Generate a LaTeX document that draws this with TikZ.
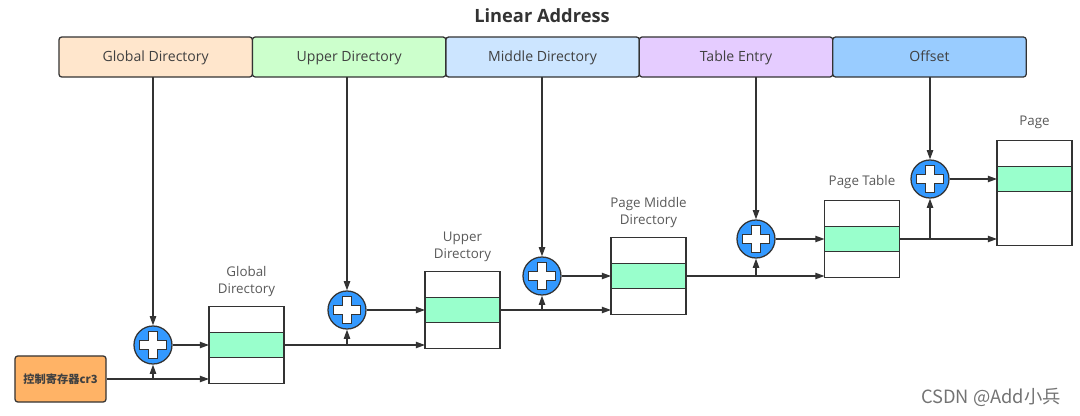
\documentclass[tikz,border=0pt]{standalone}
\usepackage{fontspec}
\setmainfont{Open Sans}
\newfontfamily\cjk{Noto Sans CJK SC}
\usetikzlibrary{positioning}
\usetikzlibrary{arrows.meta}
\definecolor{linegray}{HTML}{333333}
\definecolor{textgray}{HTML}{404040}
\definecolor{labelgray}{HTML}{595959}
\definecolor{gdfill}{HTML}{FFE6CC}
\definecolor{udfill}{HTML}{CCFFCC}
\definecolor{mdfill}{HTML}{CCE5FF}
\definecolor{tefill}{HTML}{E5CCFF}
\definecolor{offfill}{HTML}{99CCFF}
\definecolor{adderblue}{HTML}{3399FF}
\definecolor{rowgreen}{HTML}{99FFCC}
\definecolor{crorange}{HTML}{FFB366}
\tikzset{
thickness/.style={line width=0.9pt},
field/.style={draw=linegray, rounded corners=2pt, minimum width=4.835cm, minimum height=1cm,
	inner sep=0pt, outer sep=0pt, text=textgray, text height=7pt, text depth=0pt,
	font=\fontsize{10}{12}\selectfont, thickness},
cell/.style={draw=linegray, fill=white, minimum width=1.875cm, minimum height=0.64cm,
	inner sep=0pt, outer sep=0pt, thickness},
tlabel/.style={align=center, inner sep=0pt, text=labelgray, font=\fontsize{9.5}{11.5}\selectfont},
arr/.style={draw=linegray, thickness, -{Triangle[length=6.5pt, width=4.5pt]}},
adder/.style={circle, draw=linegray, fill=adderblue, minimum size=0.95cm, inner sep=0pt, thickness,
	path picture={
		\draw[draw=linegray, fill=white, line width=0.8pt]
		([shift={(-4.5,-13.5)}]path picture bounding box.center) -- ++(9,0) -- ++(0,9) -- ++(9,0)
		-- ++(0,9) -- ++(-9,0) -- ++(0,9) -- ++(-9,0) -- ++(0,-9) -- ++(-9,0) -- ++(0,-9)
		-- ++(9,0) -- cycle;
	}},
}
\begin{document}
\begin{tikzpicture}[x=0.025cm, y=-0.025cm]
	\useasboundingbox (0,0) rectangle (1080,415);
	\node[font=\bfseries\fontsize{13}{15}\selectfont, text=linegray] (title) at (542,16) {Linear Address};
	
	% linear address fields
	\node[field, fill=gdfill] (fgd) at (155.7,57) {Global Directory};
	\node[field, fill=udfill, right=0pt of fgd] (fud) {Upper Directory};
	\node[field, fill=mdfill, right=0pt of fud] (fmd) {Middle Directory};
	\node[field, fill=tefill, right=0pt of fmd] (fte) {Table Entry};
	\node[field, fill=offfill, right=0pt of fte] (foff) {Offset};
	
	% adders
	\node[adder] (add1) at (153,345) {};
	\node[adder] (add2) at (347,310) {};
	\node[adder] (add3) at (542,276) {};
	\node[adder] (add4) at (756,239) {};
	\node[adder] (add5) at (930,179) {};
	
	% tables
	\node[cell, fill=rowgreen] (pgd) at (246.5,345) {};
	\node[cell, above=0pt of pgd] (pgd-top) {};
	\node[cell, below=0pt of pgd] (pgd-bot) {};
	\node[cell, fill=rowgreen] (pud) at (462.5,310) {};
	\node[cell, above=0pt of pud] (pud-top) {};
	\node[cell, below=0pt of pud] (pud-bot) {};
	\node[cell, fill=rowgreen] (pmd) at (648.5,276) {};
	\node[cell, above=0pt of pmd] (pmd-top) {};
	\node[cell, below=0pt of pmd] (pmd-bot) {};
	\node[cell, fill=rowgreen] (pte) at (862,239) {};
	\node[cell, above=0pt of pte] (pte-top) {};
	\node[cell, below=0pt of pte] (pte-bot) {};
	\node[cell, fill=rowgreen] (pg) at (1034.5,179) {};
	\node[cell, above=0pt of pg] (pg-top) {};
	\node[cell, minimum height=1.35cm, below=0pt of pg] (pg-bot) {};
	
	\node[tlabel, above=0.25cm of pgd-top] (pgd-lab) {Global\\Directory};
	\node[tlabel, above=0.25cm of pud-top] (pud-lab) {Upper\\Directory};
	\node[tlabel, above=0.25cm of pmd-top] (pmd-lab) {Page Middle\\Directory};
	\node[tlabel, above=0.3cm of pte-top] (pte-lab) {Page Table};
	\node[tlabel, above=0.3cm of pg-top] (pg-lab) {Page};
	
	\node[draw=linegray, fill=crorange, rounded corners=2pt, minimum width=2.275cm, minimum height=1.15cm,
		inner sep=0pt, thickness, font=\cjk\bfseries\fontsize{8}{10}\selectfont, text=textgray] (cr3) at (60.5,379) {控制寄存器cr3};
	
	% field to adder
	\draw[arr] (add1 |- fgd.south) -- (add1);
	\draw[arr] (add2 |- fud.south) -- (add2);
	\draw[arr] (add3 |- fmd.south) -- (add3);
	\draw[arr] (add4 |- fte.south) -- (add4);
	\draw[arr] (add5 |- foff.south) -- (add5);
	
	% base to next table
	\draw[arr] (cr3) -- (cr3 -| pgd.west);
	\draw[arr] (cr3 -| add1) -- (add1);
	\draw[arr] (pgd) -- (pgd -| pud.west);
	\draw[arr] (pgd -| add2) -- (add2);
	\draw[arr] (pud) -- (pud -| pmd.west);
	\draw[arr] (pud -| add3) -- (add3);
	\draw[arr] (pmd) -- (pmd -| pte.west);
	\draw[arr] (pmd -| add4) -- (add4);
	\draw[arr] (pte) -- (pte -| pg.west);
	\draw[arr] (pte -| add5) -- (add5);
	
	% adder to entry
	\draw[arr] (add1) -- (add1 -| pgd.west);
	\draw[arr] (add2) -- (add2 -| pud.west);
	\draw[arr] (add3) -- (add3 -| pmd.west);
	\draw[arr] (add4) -- (add4 -| pte.west);
	\draw[arr] (add5) -- (add5 -| pg.west);
	
	\node[font=\cjk\fontsize{13}{15}\selectfont, text=black!55] (wm) at (991,397) {CSDN @Add小兵};
\end{tikzpicture}
\end{document}
